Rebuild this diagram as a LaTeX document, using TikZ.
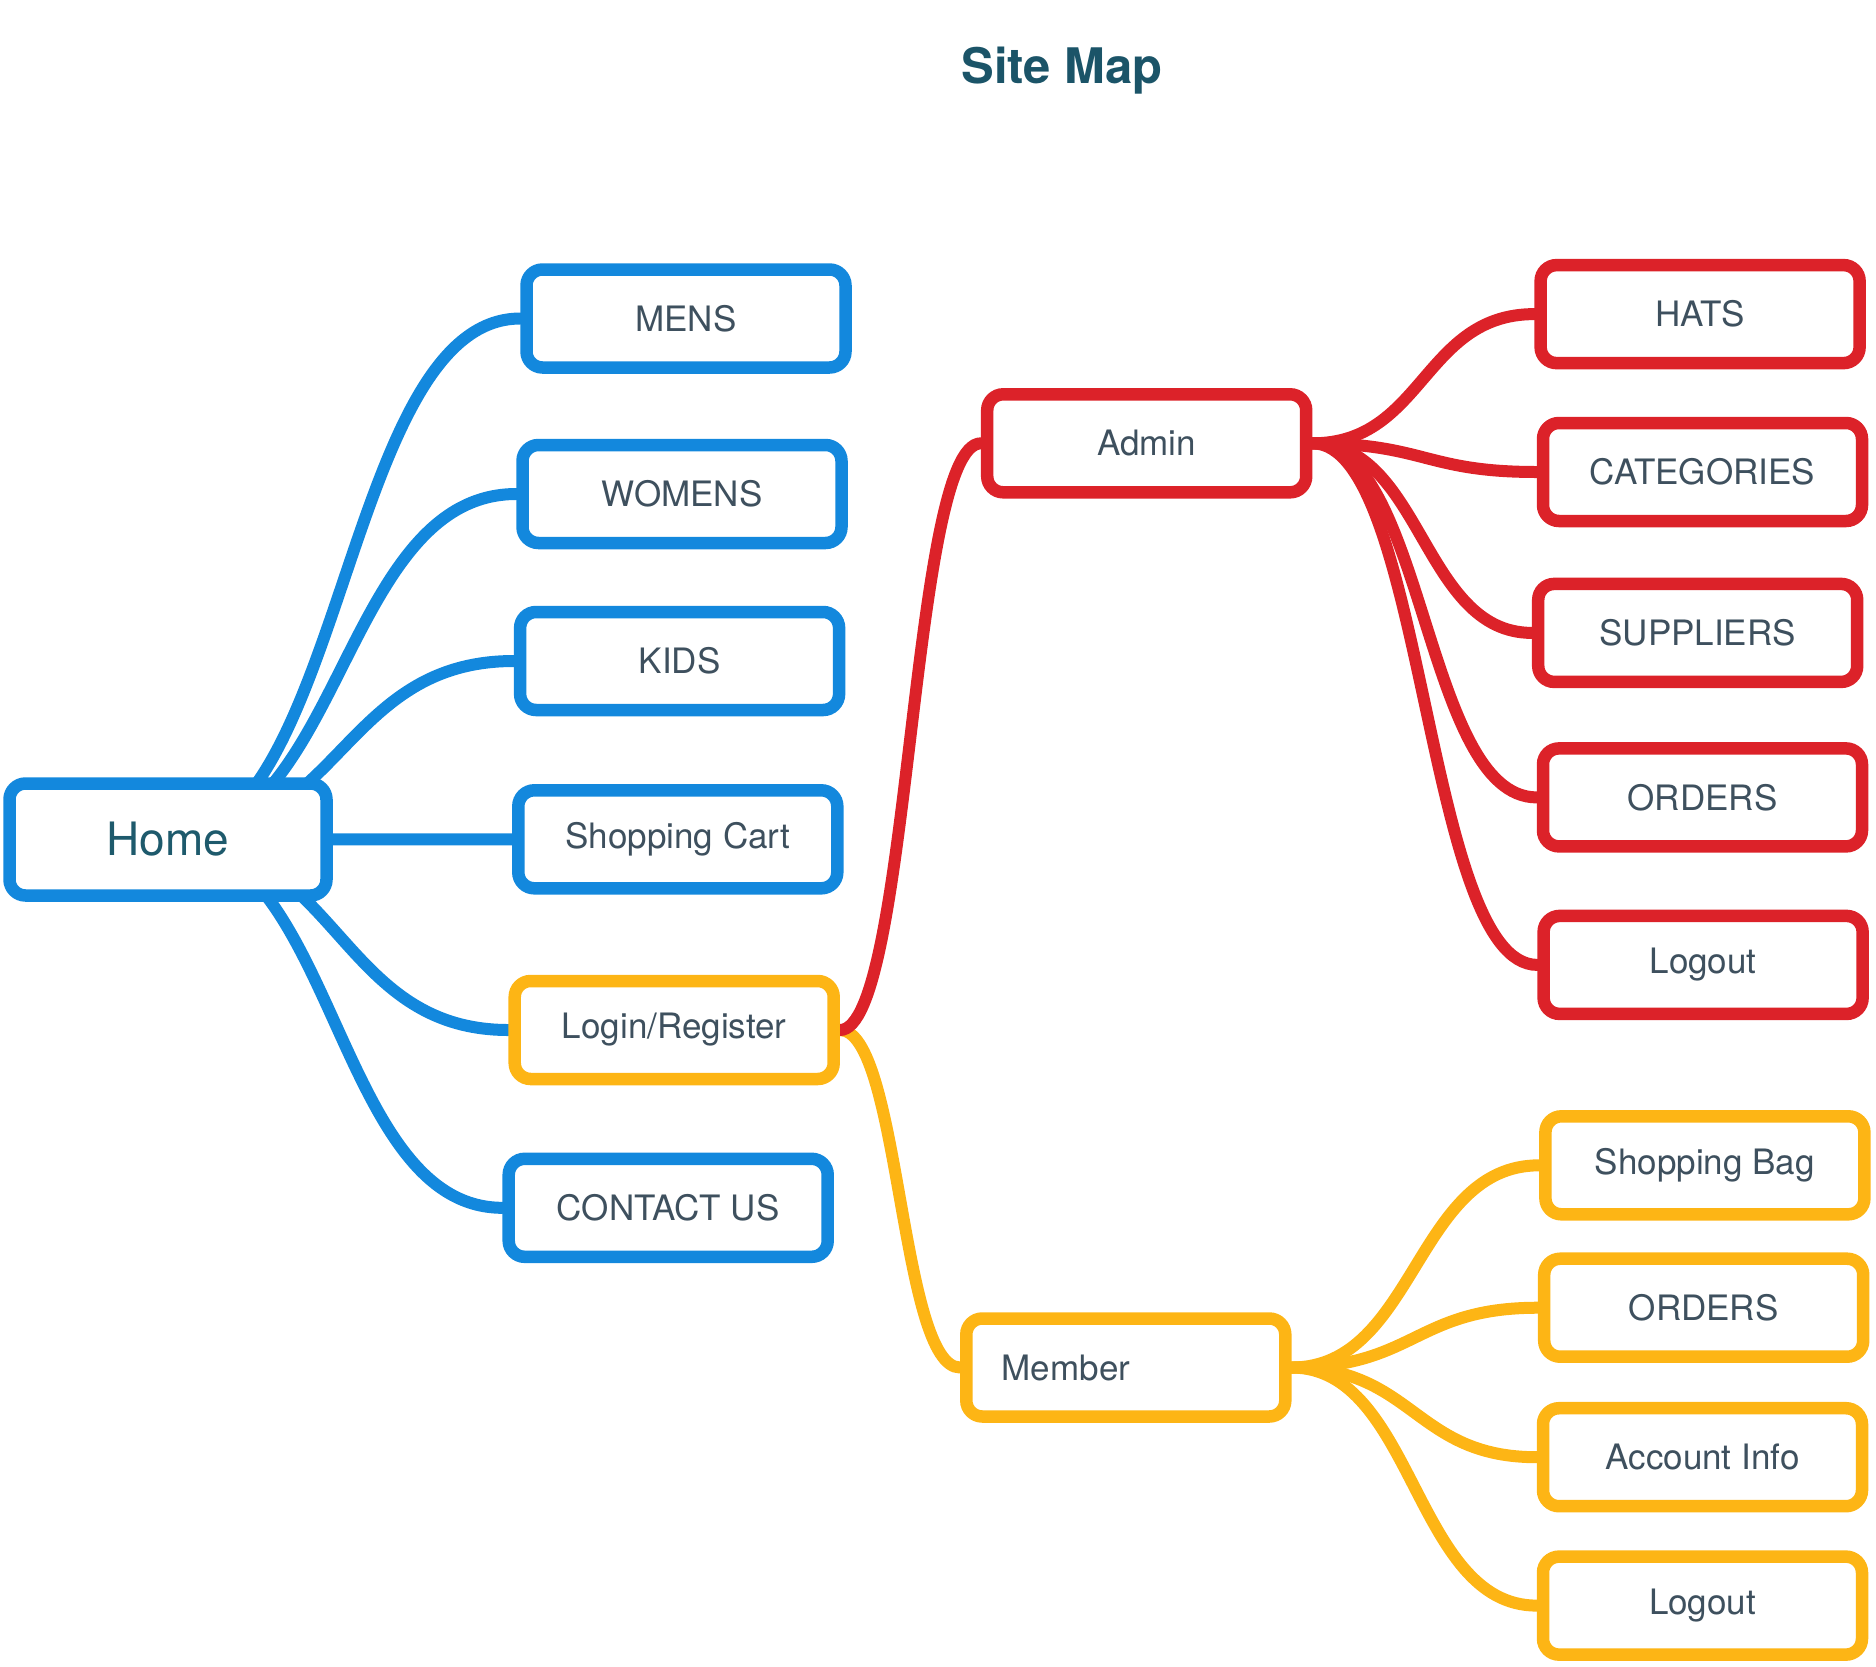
\documentclass[tikz,border=0pt]{standalone}
\usepackage{fontspec}
\setmainfont{TeX Gyre Heros}
\usetikzlibrary{calc,backgrounds}
\definecolor{mapblue}{RGB}{19,136,221}
\definecolor{mapred}{RGB}{220,34,41}
\definecolor{mapyellow}{RGB}{253,181,21}
\definecolor{labeltext}{RGB}{62,80,94}
\definecolor{hometext}{RGB}{30,90,108}
\definecolor{titletext}{RGB}{27,84,104}
\tikzset{
  pagebox/.style={draw=#1, fill=white, line width=12.5pt, rounded corners=16pt,
    minimum width=319pt, minimum height=98pt, inner sep=0pt, text=labeltext,
    font=\fontsize{35}{42}\selectfont},
  link/.style={draw=#1, line width=12pt, line cap=round},
}
\newcommand\sitelink[3]{%
  \draw[link=#1] let \p1=(#2), \p2=(#3), \n1={(\x2-\x1)/2} in
    (\p1) .. controls +(\n1,0) and +(-\n1,0) .. (\p2);}
\begin{document}
\begin{tikzpicture}[x=1pt,y=-1pt]
\useasboundingbox (0,0) rectangle (1876,1666);
\node[text=titletext, font=\fontsize{49}{57}\selectfont\bfseries] (title) at (1062,71) {Site Map};

\node[pagebox=mapblue, minimum width=317pt, minimum height=112pt, text=hometext, font=\fontsize{46}{54}\selectfont] (home) at (168,839.5) {Home};
\node[pagebox=mapblue] (mens) at (686,318.5) {MENS};
\node[pagebox=mapblue] (womens) at (682,494) {WOMENS};
\node[pagebox=mapblue] (kids) at (679.6,661) {KIDS};
\node[pagebox=mapblue] (cart) at (677.8,839.3) {Shopping Cart};
\node[pagebox=mapyellow] (login) at (674.2,1030) {Login/Register};
\node[pagebox=mapblue] (contact) at (668.2,1207.8) {CONTACT US};

\node[pagebox=mapred] (admin) at (1146.7,443.3) {Admin};
\node[pagebox=mapyellow, text width=248pt, align=left] (member) at (1125.8,1367.5) {Member};

\node[pagebox=mapred] (hats) at (1700.1,314.1) {HATS};
\node[pagebox=mapred] (categories) at (1702.5,472) {CATEGORIES};
\node[pagebox=mapred] (suppliers) at (1697.7,632.9) {SUPPLIERS};
\node[pagebox=mapred] (aorders) at (1702.5,797.4) {ORDERS};
\node[pagebox=mapred] (alogout) at (1703.1,964.9) {Logout};

\node[pagebox=mapyellow] (bag) at (1704.9,1165.3) {Shopping Bag};
\node[pagebox=mapyellow] (morders) at (1703.7,1307.7) {ORDERS};
\node[pagebox=mapyellow] (account) at (1702.5,1457.2) {Account Info};
\node[pagebox=mapyellow] (mlogout) at (1702.5,1605.6) {Logout};

\begin{pgfonlayer}{background}
\sitelink{mapblue}{home.center}{mens.west}
\sitelink{mapblue}{home.center}{womens.west}
\sitelink{mapblue}{home.center}{kids.west}
\sitelink{mapblue}{home.center}{cart.west}
\sitelink{mapblue}{home.center}{login.west}
\sitelink{mapblue}{home.center}{contact.west}
\sitelink{mapyellow}{login.east}{member.west}
\sitelink{mapred}{login.east}{admin.west}
\sitelink{mapred}{admin.east}{hats.west}
\sitelink{mapred}{admin.east}{categories.west}
\sitelink{mapred}{admin.east}{suppliers.west}
\sitelink{mapred}{admin.east}{aorders.west}
\sitelink{mapred}{admin.east}{alogout.west}
\sitelink{mapyellow}{member.east}{bag.west}
\sitelink{mapyellow}{member.east}{morders.west}
\sitelink{mapyellow}{member.east}{account.west}
\sitelink{mapyellow}{member.east}{mlogout.west}
\end{pgfonlayer}
\end{tikzpicture}
\end{document}
